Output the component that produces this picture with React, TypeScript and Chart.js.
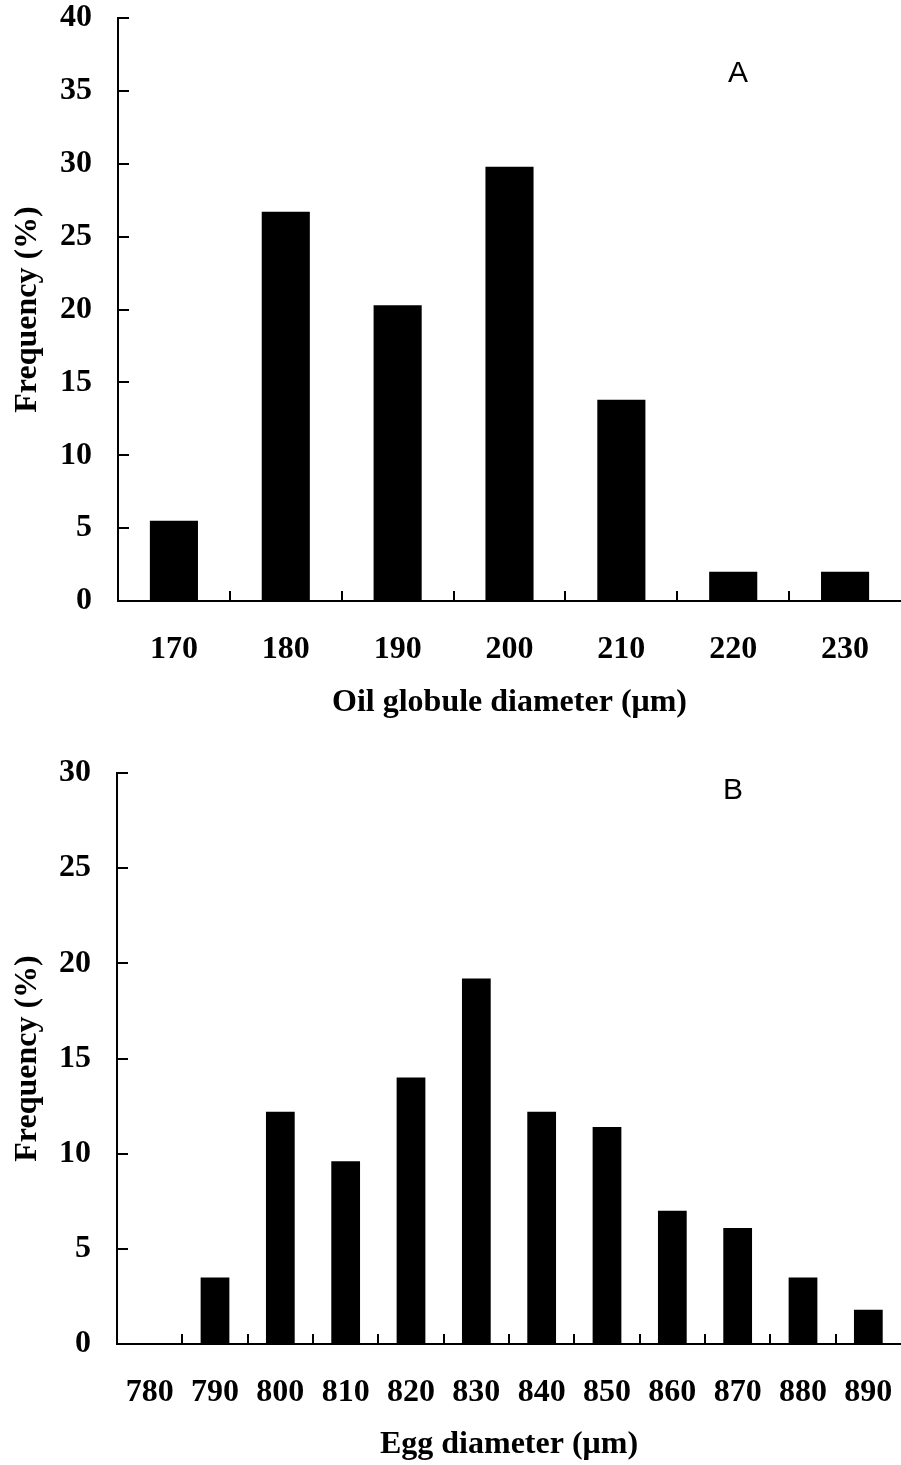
import { useEffect, useRef } from "react";
import { Chart, registerables } from "chart.js";

Chart.register(...registerables);

// Panel A: oil globule diameter distribution
const oilLabels = ["170", "180", "190", "200", "210", "220", "230"];
const oilFrequency = [5.5, 26.7, 20.3, 29.8, 13.8, 2.0, 2.0];
const oilYMax = 40;

// Panel B: egg diameter distribution
const eggLabels = ["780", "790", "800", "810", "820", "830", "840", "850", "860", "870", "880", "890"];
const eggFrequency = [0, 3.5, 12.2, 9.6, 14.0, 19.2, 12.2, 11.4, 7.0, 6.1, 3.5, 1.8];
const eggYMax = 30;

const yStep = 5;

const SERIF = "'Liberation Serif', 'Times New Roman', serif";
const SANS = "'Liberation Sans', Arial, sans-serif";
const FONT_SIZE = 32;

// Draws inward-pointing tick marks on both axes and the panel letter.
const innerTicks = {
  id: "innerTicks",
  afterDatasetsDraw(chart: any, _args: any, opts: any) {
    const { ctx, chartArea } = chart;
    const xs = chart.scales.x;
    const ys = chart.scales.y;
    ctx.save();
    ctx.strokeStyle = "#000";
    ctx.lineWidth = 2;
    ctx.beginPath();
    ys.ticks.forEach((_t: any, i: number) => {
      const py = Math.round(ys.getPixelForTick(i));
      ctx.moveTo(chartArea.left, py);
      ctx.lineTo(chartArea.left + opts.yLen, py);
    });
    const n = xs.ticks.length;
    for (let i = 1; i < n; i++) {
      const px = Math.round((xs.getPixelForTick(i - 1) + xs.getPixelForTick(i)) / 2);
      ctx.moveTo(px, chartArea.bottom);
      ctx.lineTo(px, chartArea.bottom - opts.xLen);
    }
    ctx.stroke();
    ctx.fillStyle = "#000";
    ctx.font = `30px ${SANS}`;
    ctx.textAlign = "center";
    ctx.textBaseline = "middle";
    ctx.fillText(opts.letter, chartArea.left + opts.letterX, chartArea.top + opts.letterY);
    ctx.restore();
  },
};

type PanelProps = {
  labels: string[];
  values: number[];
  yMax: number;
  xTitle: string;
  letter: string;
  letterX: number;
  letterY: number;
  height: number;
  padTop: number;
  yWidth: number;
  xHeight: number;
  barPct: number;
  xTitlePadBottom: number;
  top: number;
};

function Panel(p: PanelProps) {
  const ref = useRef<HTMLCanvasElement | null>(null);
  useEffect(() => {
    if (!ref.current) return;
    const chart = new Chart(ref.current, {
      type: "bar",
      data: {
        labels: p.labels,
        datasets: [
          {
            data: p.values,
            backgroundColor: "#000",
            borderWidth: 0,
            categoryPercentage: 1,
            barPercentage: p.barPct,
          },
        ],
      },
      plugins: [innerTicks],
      options: {
        responsive: false,
        animation: false,
        devicePixelRatio: 1,
        layout: { padding: { top: p.padTop, left: 0, right: 0, bottom: 0 } },
        plugins: {
          legend: { display: false },
          tooltip: { enabled: false },
          innerTicks: { yLen: 11, xLen: 10, letter: p.letter, letterX: p.letterX, letterY: p.letterY },
        } as any,
        scales: {
          x: {
            offset: true,
            grid: { display: false, offset: true },
            border: { display: true, color: "#000", width: 2 },
            ticks: {
              color: "#000",
              font: { family: SERIF, size: FONT_SIZE, weight: "bold" },
              padding: 22,
              maxRotation: 0,
              autoSkip: false,
            },
            title: {
              display: true,
              text: p.xTitle,
              color: "#000",
              font: { family: SERIF, size: FONT_SIZE, weight: "bold" },
              padding: { top: 0, bottom: p.xTitlePadBottom },
            },
            afterFit: (s: any) => {
              s.height = p.xHeight;
              s.paddingLeft = 0;
              s.paddingRight = 0;
            },
          },
          y: {
            min: 0,
            max: p.yMax,
            grid: { display: false },
            border: { display: true, color: "#000", width: 2 },
            ticks: {
              stepSize: yStep,
              color: "#000",
              font: { family: SERIF, size: FONT_SIZE, weight: "bold" },
              padding: 18,
            },
            title: {
              display: true,
              text: "Frequency (%)",
              color: "#000",
              font: { family: SERIF, size: FONT_SIZE, weight: "bold" },
              padding: { top: 9, bottom: 0 },
            },
            afterFit: (s: any) => {
              s.width = p.yWidth;
              s.paddingTop = 0;
              s.paddingBottom = 0;
            },
          },
        },
      } as any,
    });
    return () => chart.destroy();
  }, []);
  return (
    <canvas
      ref={ref}
      width={901}
      height={p.height}
      style={{ position: "absolute", left: 0, top: p.top, width: 901, height: p.height }}
    />
  );
}

export default function App() {
  return (
    <div style={{ position: "absolute", left: 0, top: 0, width: 901, height: 1465, background: "#fff" }}>
      <Panel
        labels={oilLabels}
        values={oilFrequency}
        yMax={oilYMax}
        xTitle="Oil globule diameter (μm)"
        letter="A"
        letterX={620}
        letterY={56}
        height={730}
        padTop={18}
        yWidth={118}
        xHeight={129}
        barPct={0.43}
        xTitlePadBottom={8}
        top={0}
      />
      <Panel
        labels={eggLabels}
        values={eggFrequency}
        yMax={eggYMax}
        xTitle="Egg diameter (μm)"
        letter="B"
        letterX={616}
        letterY={18}
        height={735}
        padTop={43}
        yWidth={117}
        xHeight={121}
        barPct={0.44}
        xTitlePadBottom={1}
        top={730}
      />
    </div>
  );
}
